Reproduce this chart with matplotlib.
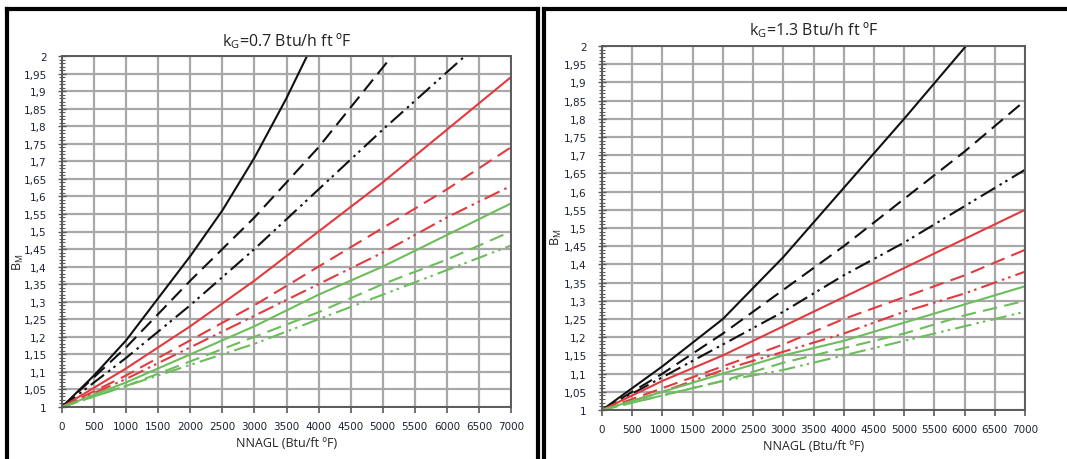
import matplotlib
matplotlib.use("Agg")
import matplotlib.pyplot as plt
from matplotlib.lines import Line2D
from matplotlib.ticker import MultipleLocator, FuncFormatter

# ---- data -------------------------------------------------------------
x_full = [0, 1000, 2000, 3000, 4000, 5000, 6000, 7000]

# k_G = 0.7 Btu/h ft ºF
left_black_solid_x = [0, 500, 1000, 1500, 2000, 2500, 3000, 3500, 3820]
left_black_solid_y = [1.0, 1.09, 1.19, 1.31, 1.43, 1.56, 1.71, 1.88, 2.0]
left_black_dash_x = [0, 1000, 2000, 3000, 4000, 5145]
left_black_dash_y = [1.0, 1.17, 1.36, 1.54, 1.74, 2.0]
left_black_dd_x = [0, 1000, 2000, 3000, 4000, 5000, 6283]
left_black_dd_y = [1.0, 1.14, 1.29, 1.45, 1.62, 1.79, 2.0]
left_red_solid_y = [1.0, 1.11, 1.23, 1.36, 1.50, 1.64, 1.79, 1.94]
left_red_dash_y = [1.0, 1.09, 1.19, 1.29, 1.40, 1.51, 1.62, 1.74]
left_red_dd_y = [1.0, 1.08, 1.17, 1.26, 1.35, 1.44, 1.54, 1.63]
left_green_solid_y = [1.0, 1.07, 1.15, 1.23, 1.32, 1.40, 1.49, 1.58]
left_green_dash_y = [1.0, 1.06, 1.13, 1.20, 1.27, 1.35, 1.42, 1.50]
left_green_dd_y = [1.0, 1.06, 1.12, 1.18, 1.25, 1.32, 1.39, 1.46]

# k_G = 1.3 Btu/h ft ºF
right_black_solid_x = [0, 1000, 2000, 3000, 4000, 5000, 6024]
right_black_solid_y = [1.0, 1.12, 1.25, 1.42, 1.61, 1.80, 2.0]
right_black_dash_y = [1.0, 1.10, 1.21, 1.33, 1.45, 1.58, 1.71, 1.85]
right_black_dd_y = [1.0, 1.09, 1.18, 1.27, 1.37, 1.46, 1.56, 1.66]
right_red_solid_y = [1.0, 1.08, 1.15, 1.23, 1.31, 1.39, 1.47, 1.55]
right_red_dash_y = [1.0, 1.06, 1.12, 1.18, 1.25, 1.31, 1.37, 1.44]
right_red_dd_y = [1.0, 1.05, 1.11, 1.16, 1.21, 1.27, 1.32, 1.38]
right_green_solid_y = [1.0, 1.05, 1.10, 1.15, 1.19, 1.24, 1.29, 1.34]
right_green_dash_y = [1.0, 1.04, 1.08, 1.13, 1.17, 1.21, 1.26, 1.30]
right_green_dd_y = [1.0, 1.04, 1.08, 1.11, 1.15, 1.19, 1.23, 1.27]

titles = [r"k$_\mathregular{G}$=0.7 Btu/h ft ºF", r"k$_\mathregular{G}$=1.3 Btu/h ft ºF"]
xlabel = "NNAGL (Btu/ft ºF)"
ylabel = r"B$_\mathregular{M}$"

# ---- styling ----------------------------------------------------------
BLACK = "#111111"
RED = "#e23a3f"
GREEN = "#6cbd5b"
SOLID = "-"
DASH = (0, (7, 3.5))
DASHDOTDOT = (0, (8, 2.5, 1.2, 2, 1.2, 2.5))
TICK_FONT = ["Liberation Sans Narrow", "DejaVu Sans"]
TEXT_FONT = ["Open Sans", "DejaVu Sans"]
LABEL_COLOR = "#1c2233"

left_series = [
    (left_black_solid_x, left_black_solid_y, BLACK, SOLID),
    (left_black_dash_x, left_black_dash_y, BLACK, DASH),
    (left_black_dd_x, left_black_dd_y, BLACK, DASHDOTDOT),
    (x_full, left_red_solid_y, RED, SOLID),
    (x_full, left_red_dash_y, RED, DASH),
    (x_full, left_red_dd_y, RED, DASHDOTDOT),
    (x_full, left_green_solid_y, GREEN, SOLID),
    (x_full, left_green_dash_y, GREEN, DASH),
    (x_full, left_green_dd_y, GREEN, DASHDOTDOT),
]
right_series = [
    (right_black_solid_x, right_black_solid_y, BLACK, SOLID),
    (x_full, right_black_dash_y, BLACK, DASH),
    (x_full, right_black_dd_y, BLACK, DASHDOTDOT),
    (x_full, right_red_solid_y, RED, SOLID),
    (x_full, right_red_dash_y, RED, DASH),
    (x_full, right_red_dd_y, RED, DASHDOTDOT),
    (x_full, right_green_solid_y, GREEN, SOLID),
    (x_full, right_green_dash_y, GREEN, DASH),
    (x_full, right_green_dd_y, GREEN, DASHDOTDOT),
]

W, H = 1067, 460
fig = plt.figure(figsize=(W / 100, H / 100), dpi=100)
fig.patch.set_facecolor("white")


def px_rect(x0, x1, ytop, ybot):
    return [x0 / W, 1 - ybot / H, (x1 - x0) / W, (ybot - ytop) / H]


def comma_fmt(v, pos):
    s = f"{v:.2f}".rstrip("0").rstrip(".")
    return s.replace(".", ",")


def draw_panel(rect, series, title, title_y, ylabel_pos):
    ax = fig.add_axes(rect)
    for xs, ys, color, ls in series:
        ax.plot(xs, ys, color=color, linestyle=ls, lw=1.5, solid_capstyle="butt")
    ax.set_xlim(0, 7000)
    ax.set_ylim(1, 2)
    ax.xaxis.set_major_locator(MultipleLocator(500))
    ax.yaxis.set_major_locator(MultipleLocator(0.05))
    ax.yaxis.set_minor_locator(MultipleLocator(0.01))
    ax.yaxis.set_major_formatter(FuncFormatter(comma_fmt))
    ax.grid(True, which="major", color="#a8a8a8", lw=1.6)
    ax.set_axisbelow(True)
    for s in ax.spines.values():
        s.set_color("#5a5a5a")
        s.set_linewidth(1.4)
    ax.tick_params(axis="x", which="major", direction="out", length=4, width=1.2,
                   color="#5a5a5a", pad=6, labelsize=7.5, labelcolor=LABEL_COLOR)
    ax.tick_params(axis="y", which="major", direction="inout", length=6, width=1.0,
                   color="#5a5a5a", pad=8, labelsize=7.5, labelcolor=LABEL_COLOR)
    ax.tick_params(axis="y", which="minor", direction="inout", length=5, width=0.8,
                   color="#5a5a5a")
    for lab in ax.get_xticklabels() + ax.get_yticklabels():
        lab.set_family(TICK_FONT)
    ax.set_xlabel(xlabel, family=TEXT_FONT, fontsize=9, color="#222222", labelpad=4)
    ax.set_ylabel(ylabel, family=TEXT_FONT, fontsize=9, color="#222222")
    ax.yaxis.set_label_coords(*ylabel_pos)
    fig.text((rect[0] + rect[2] / 2), 1 - title_y / H, title, family=TEXT_FONT,
             fontsize=11.5, ha="center", va="center", color="#222222")
    return ax


ax1 = draw_panel(px_rect(62, 511, 57, 408), left_series, titles[0], 41, (-0.080, 0.416))
ax2 = draw_panel(px_rect(602, 1025, 47, 411), right_series, titles[1], 30, (-0.090, 0.478))

# panel frames
frame_kw = dict(color="black", lw=3, transform=fig.transFigure, solid_capstyle="projecting")


def fline(xs, ys):
    fig.add_artist(Line2D([x / W for x in xs], [1 - y / H for y in ys], **frame_kw))


fline([7, 7], [10, 462])
fline([7, 538], [10, 10])
fline([538, 538], [10, 462])
fline([544, 544], [10, 462])
fline([544, 1070], [10, 10])

fig.savefig("out.png", dpi=100, facecolor="white")
